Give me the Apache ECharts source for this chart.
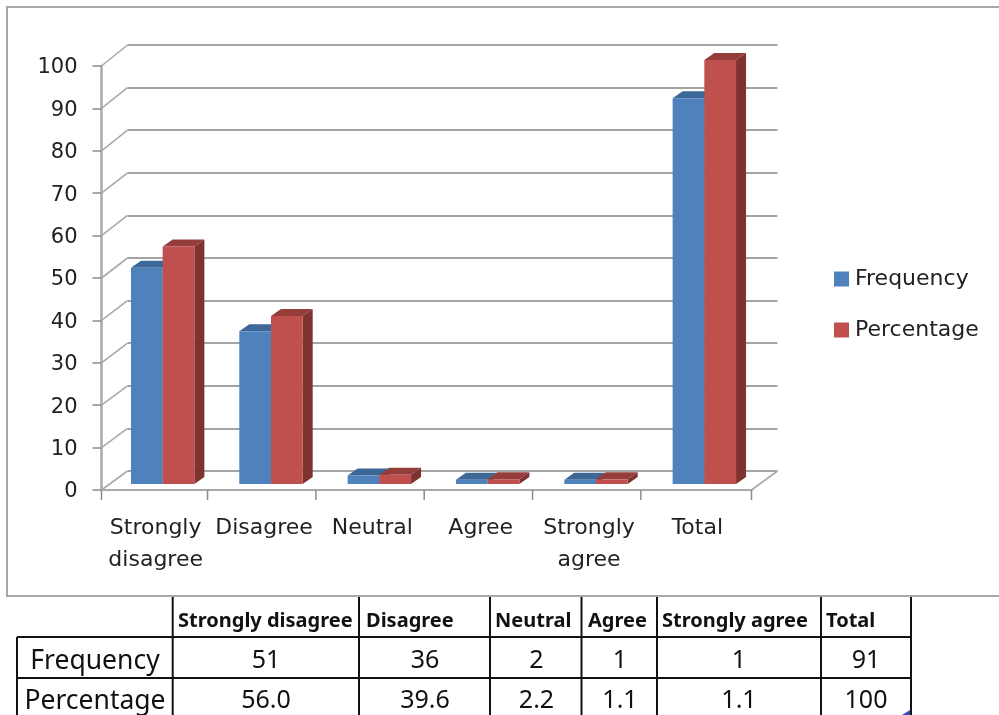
<!DOCTYPE html>
<html>
<head>
<meta charset="utf-8">
<style>
html,body{margin:0;padding:0;background:#fff;overflow:hidden}
#c{width:999px;height:715px;filter:blur(0.7px)}
</style>
<script src="https://cdn.jsdelivr.net/npm/echarts@6/dist/echarts.min.js"></script>
</head>
<body>
<div id="c"></div>
<script>
const categories = ['Strongly disagree','Disagree','Neutral','Agree','Strongly agree','Total'];
const frequency = [51,36,2,1,1,91];
const percentage = [56.0,39.6,2.2,1.1,1.1,100];
const frequencyText = ['51','36','2','1','1','91'];
const percentageText = ['56.0','39.6','2.2','1.1','1.1','100'];
const yTicks = [0,10,20,30,40,50,60,70,80,90,100];
const seriesNames = ['Frequency','Percentage'];

const BAR_W = 31.7, SHIFT_X = 7, SHIFT_Y = 6, DEPTH_X = 10, DEPTH_Y = 7;
const LABEL_FONT = '"DejaVu Sans"', TABLE_FONT = '"Noto Sans"';
const axisGrey = '#a9a9a9';

function barRenderer(side, front, top, dark){
  return function(params, api){
    const c = api.coord([api.value(0), api.value(1)]);
    const b = api.coord([api.value(0), 0]);
    const x0 = c[0] + SHIFT_X + (side < 0 ? -BAR_W : 0);
    const x1 = x0 + BAR_W;
    const yB = b[1] - SHIFT_Y, yT = c[1] - SHIFT_Y;
    return {type:'group', children:[
      {type:'polygon', shape:{points:[[x1,yT],[x1+DEPTH_X,yT-DEPTH_Y],[x1+DEPTH_X,yB-DEPTH_Y],[x1,yB]]}, style:{fill:dark}},
      {type:'polygon', shape:{points:[[x0,yT],[x0+DEPTH_X,yT-DEPTH_Y],[x1+DEPTH_X,yT-DEPTH_Y],[x1,yT]]}, style:{fill:top}},
      {type:'rect', shape:{x:x0,y:yT,width:BAR_W,height:yB-yT}, style:{fill:front}}
    ]};
  };
}

function wallRenderer(params, api){
  const v = api.value(1);
  const p = api.coord([0, v]);
  const cs = params.coordSys;
  const dy = -19 - 2 * v / 100;
  const lines = [{type:'line', shape:{x1:cs.x,y1:p[1],x2:cs.x+26,y2:p[1]+dy}, style:{stroke:axisGrey,lineWidth:1.6}}];
  if (v === 0) lines.push({type:'line', shape:{x1:cs.x+cs.width,y1:p[1],x2:cs.x+cs.width+26,y2:p[1]+dy}, style:{stroke:axisGrey,lineWidth:1.6}});
  return {type:'group', children:lines};
}

// category ticks: boundaries of each band; inner ones sit slightly left in the reference
function tickRenderer(params, api){
  const i = api.value(0);
  const p = api.coord([i, 0]);
  const cs = params.coordSys;
  const band = cs.width / categories.length;
  const lines = [];
  const x = p[0] + band / 2 - (i < categories.length - 1 ? 2.3 : 0);
  lines.push({type:'line', shape:{x1:x,y1:p[1],x2:x,y2:p[1]+10}, style:{stroke:'#8c8c8c',lineWidth:1.5}});
  if (i === 0) lines.push({type:'line', shape:{x1:cs.x,y1:p[1],x2:cs.x,y2:p[1]+10}, style:{stroke:'#8c8c8c',lineWidth:1.5}});
  return {type:'group', children:lines};
}

// table
const colEdges = [17,172.7,359,490,581.5,657,821,911];
const rowLines = [637,678];
const headerX = [178,366,495,588,662,826];
const valueX = [266,425,536.5,620,739,866];
const rowY = [622,662,702];
const tableEls = [];
colEdges.forEach((x,i)=>{
  tableEls.push({type:'line', shape:{x1:x,y1:i===0?637:597,x2:x,y2:715}, style:{stroke:'#111',lineWidth:2}});
});
rowLines.forEach(y=>{
  tableEls.push({type:'line', shape:{x1:17,y1:y,x2:911,y2:y}, style:{stroke:'#111',lineWidth:2}});
});
categories.forEach((t,i)=>{
  tableEls.push({type:'text', x:headerX[i], y:rowY[0]-1, style:{text:t, font:'bold 20px '+TABLE_FONT, fill:'#111', textAlign:'left', textVerticalAlign:'middle'}});
  tableEls.push({type:'text', x:valueX[i], y:rowY[1]-1, style:{text:frequencyText[i], font:'25px '+TABLE_FONT, fill:'#111', textAlign:'center', textVerticalAlign:'middle'}});
  tableEls.push({type:'text', x:valueX[i], y:rowY[2]-1, style:{text:percentageText[i], font:'25px '+TABLE_FONT, fill:'#111', textAlign:'center', textVerticalAlign:'middle'}});
});
seriesNames.forEach((t,i)=>{
  tableEls.push({type:'text', x:95, y:rowY[i+1]-1, style:{text:t, font:'26.5px '+TABLE_FONT, fill:'#111', textAlign:'center', textVerticalAlign:'middle'}});
});
tableEls.push({type:'polygon', shape:{points:[[902,715],[910,710],[910,715]]}, style:{fill:'#3c50b4'}});

const chart = echarts.init(document.getElementById('c'), null, {renderer:'canvas'});
chart.setOption({
  animation:false,
  backgroundColor:'#fff',
  legend:{
    orient:'vertical', left:829, top:263, itemWidth:15, itemHeight:15, itemGap:29,
    icon:'rect', data:seriesNames,
    textStyle:{fontFamily:LABEL_FONT,fontSize:22,color:'#222',padding:[0,0,0,1]}
  },
  grid:[
    {left:101.5,top:66,width:650,height:424,containLabel:false},
    {left:127.5,top:45,width:650,height:426,containLabel:false}
  ],
  xAxis:[
    {type:'category',gridIndex:0,data:categories,
     axisLine:{lineStyle:{color:axisGrey,width:2}},
     axisTick:{show:false},
     axisLabel:{interval:0,margin:22,fontFamily:LABEL_FONT,fontSize:22,lineHeight:32,color:'#222',
       formatter:v=>v.replace(' ','\n')},
     splitLine:{show:false}},
    {type:'category',gridIndex:1,data:categories,show:false}
  ],
  yAxis:[
    {type:'value',gridIndex:0,min:0,max:100,interval:10,
     axisLine:{show:true,lineStyle:{color:axisGrey,width:2.5}},
     axisTick:{show:true,length:9,lineStyle:{color:'#8c8c8c',width:1.5}},
     axisLabel:{margin:24,fontFamily:LABEL_FONT,fontSize:21,color:'#222',verticalAlign:'top',lineHeight:4},
     splitLine:{show:false}},
    {type:'value',gridIndex:1,min:0,max:100,interval:10,
     axisLine:{show:false},axisTick:{show:false},axisLabel:{show:false},
     splitLine:{show:true,lineStyle:{color:'#a4a4a4',width:2}}}
  ],
  graphic:[
    {type:'rect',z:-1,silent:true,shape:{x:7,y:7,width:1000,height:589},style:{fill:'none',stroke:'#a8a8a8',lineWidth:2}},
    {type:'group',silent:true,children:tableEls}
  ],
  series:[
    {type:'custom',name:'wall',xAxisIndex:0,yAxisIndex:0,renderItem:wallRenderer,silent:true,
     data:yTicks.map(v=>[0,v]),encode:{x:0,y:1},z:1},
    {type:'custom',name:'ticks',xAxisIndex:0,yAxisIndex:0,renderItem:tickRenderer,silent:true,
     data:categories.map((c,i)=>[i,0]),encode:{x:0,y:1},z:1},
    {type:'custom',name:seriesNames[0],xAxisIndex:0,yAxisIndex:0,
     renderItem:barRenderer(-1,'#4f81bd','#3d6796','#35597f'),
     itemStyle:{color:'#4f81bd'},
     data:frequency.map((v,i)=>[i,v]),encode:{x:0,y:1},z:3},
    {type:'custom',name:seriesNames[1],xAxisIndex:0,yAxisIndex:0,
     renderItem:barRenderer(1,'#c0504d','#943d3b','#7e3331'),
     itemStyle:{color:'#c0504d'},
     data:percentage.map((v,i)=>[i,v]),encode:{x:0,y:1},z:4}
  ]
});
</script>
</body>
</html>
